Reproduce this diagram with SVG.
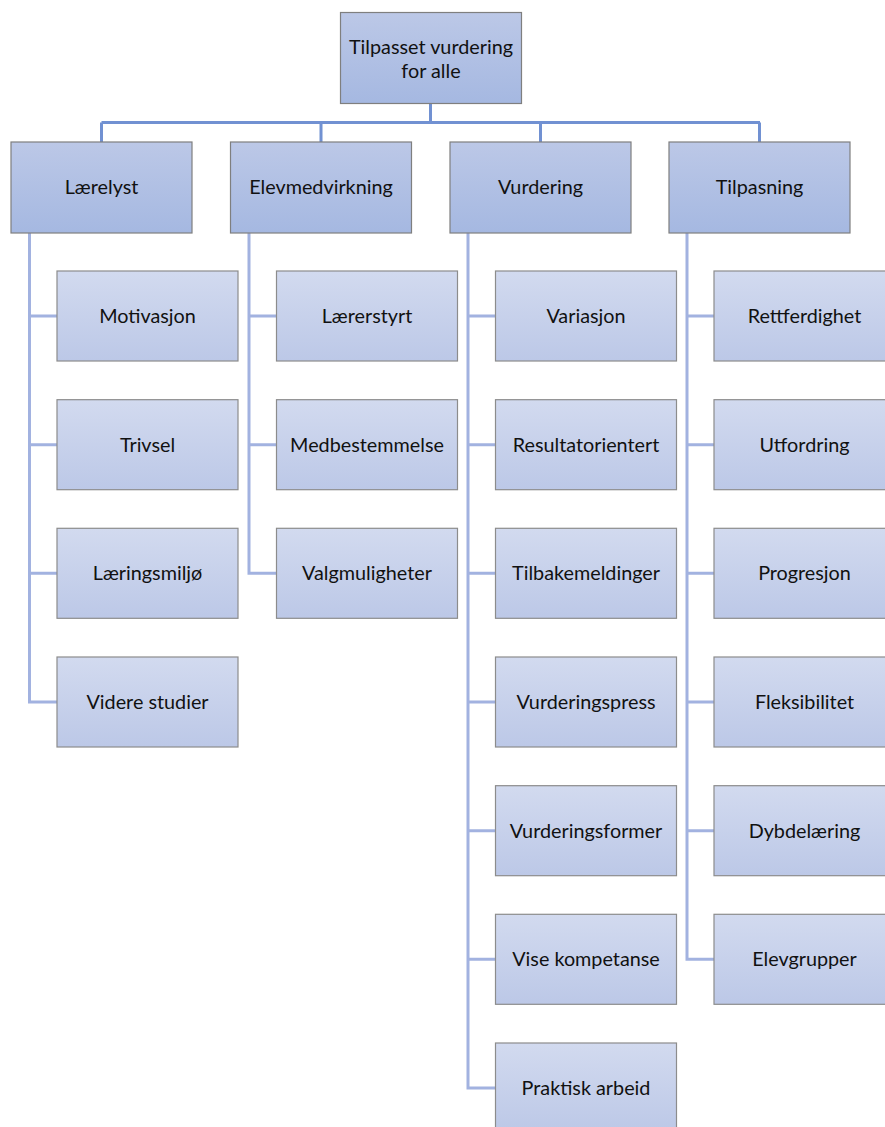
<svg xmlns="http://www.w3.org/2000/svg" width="885" height="1127" viewBox="0 0 885 1127">
<defs>
<linearGradient id="gTop" x1="0" y1="0" x2="0" y2="1">
<stop offset="0" stop-color="#bcc8e7"/><stop offset="1" stop-color="#a5b8e1"/>
</linearGradient>
<linearGradient id="gChild" x1="0" y1="0" x2="0" y2="1">
<stop offset="0" stop-color="#d2daef"/><stop offset="1" stop-color="#bcc8e7"/>
</linearGradient>
<style>
.top{fill:url(#gTop);stroke:#7f7f7f;stroke-width:1.2}
.child{fill:url(#gChild);stroke:#8c8c8c;stroke-width:1.2}
text{font-family:Lato,"Liberation Sans",sans-serif;font-size:19.8px;fill:#111;text-anchor:middle}
.c1{fill:none;stroke:#7191d2;stroke-width:3}
.c2{fill:none;stroke:#a2b2e0;stroke-width:3}
</style>
</defs>
<rect width="885" height="1127" fill="#fff"/>
<g id="connectors">
<path class="c1" d="M430.5 103V122.5M101.5 122.5H760M101.5 122.5V142M321 122.5V142M540.5 122.5V142M759.5 122.5V142"/>
<path class="c2" d="M29.5 233V702H57M29.5 316H57M29.5 444.7H57M29.5 573.3H57"/>
<path class="c2" d="M249 233V573.3H276.5M249 316H276.5M249 444.7H276.5"/>
<path class="c2" d="M468 233V1088H495.5M468 316H495.5M468 444.7H495.5M468 573.3H495.5M468 702H495.5M468 830.7H495.5M468 959.3H495.5"/>
<path class="c2" d="M687 233V959.3H714M687 316H714M687 444.7H714M687 573.3H714M687 702H714M687 830.7H714"/>
</g>
<g id="n-root"><rect class="top" x="340.5" y="12.5" width="181" height="91"/><text x="431" y="47" dy="0.35em">Tilpasset vurdering</text><text x="431" y="71" dy="0.35em">for alle</text></g>
<g id="n-laerelyst"><rect class="top" x="11" y="142" width="181" height="91"/><text x="101.5" y="187.5" dy="0.35em">Lærelyst</text></g>
<g id="n-elevmedvirkning"><rect class="top" x="230.5" y="142" width="181" height="91"/><text x="321" y="187.5" dy="0.35em">Elevmedvirkning</text></g>
<g id="n-vurdering"><rect class="top" x="450" y="142" width="181" height="91"/><text x="540.5" y="187.5" dy="0.35em">Vurdering</text></g>
<g id="n-tilpasning"><rect class="top" x="669" y="142" width="181" height="91"/><text x="759.5" y="187.5" dy="0.35em">Tilpasning</text></g>

<g id="n-motivasjon"><rect class="child" x="57" y="271" width="181" height="90"/><text x="147.5" y="316" dy="0.35em">Motivasjon</text></g>
<g id="n-trivsel"><rect class="child" x="57" y="399.7" width="181" height="90"/><text x="147.5" y="444.7" dy="0.35em">Trivsel</text></g>
<g id="n-laeringsmiljo"><rect class="child" x="57" y="528.3" width="181" height="90"/><text x="147.5" y="573.3" dy="0.35em">Læringsmiljø</text></g>
<g id="n-videre"><rect class="child" x="57" y="657" width="181" height="90"/><text x="147.5" y="702" dy="0.35em">Videre studier</text></g>

<g id="n-larerstyrt"><rect class="child" x="276.5" y="271" width="181" height="90"/><text x="367" y="316" dy="0.35em">Lærerstyrt</text></g>
<g id="n-medbestemmelse"><rect class="child" x="276.5" y="399.7" width="181" height="90"/><text x="367" y="444.7" dy="0.35em">Medbestemmelse</text></g>
<g id="n-valgmuligheter"><rect class="child" x="276.5" y="528.3" width="181" height="90"/><text x="367" y="573.3" dy="0.35em">Valgmuligheter</text></g>

<g id="n-variasjon"><rect class="child" x="495.5" y="271" width="181" height="90"/><text x="586" y="316" dy="0.35em">Variasjon</text></g>
<g id="n-resultat"><rect class="child" x="495.5" y="399.7" width="181" height="90"/><text x="586" y="444.7" dy="0.35em">Resultatorientert</text></g>
<g id="n-tilbake"><rect class="child" x="495.5" y="528.3" width="181" height="90"/><text x="586" y="573.3" dy="0.35em">Tilbakemeldinger</text></g>
<g id="n-vpress"><rect class="child" x="495.5" y="657" width="181" height="90"/><text x="586" y="702" dy="0.35em">Vurderingspress</text></g>
<g id="n-vformer"><rect class="child" x="495.5" y="785.7" width="181" height="90"/><text x="586" y="830.7" dy="0.35em">Vurderingsformer</text></g>
<g id="n-vise"><rect class="child" x="495.5" y="914.3" width="181" height="90"/><text x="586" y="959.3" dy="0.35em">Vise kompetanse</text></g>
<g id="n-praktisk"><rect class="child" x="495.5" y="1043" width="181" height="90"/><text x="586" y="1088" dy="0.35em">Praktisk arbeid</text></g>

<g id="n-rett"><rect class="child" x="714" y="271" width="181" height="90"/><text x="804.5" y="316" dy="0.35em">Rettferdighet</text></g>
<g id="n-utfordring"><rect class="child" x="714" y="399.7" width="181" height="90"/><text x="804.5" y="444.7" dy="0.35em">Utfordring</text></g>
<g id="n-progresjon"><rect class="child" x="714" y="528.3" width="181" height="90"/><text x="804.5" y="573.3" dy="0.35em">Progresjon</text></g>
<g id="n-fleks"><rect class="child" x="714" y="657" width="181" height="90"/><text x="804.5" y="702" dy="0.35em">Fleksibilitet</text></g>
<g id="n-dybde"><rect class="child" x="714" y="785.7" width="181" height="90"/><text x="804.5" y="830.7" dy="0.35em">Dybdelæring</text></g>
<g id="n-elevgr"><rect class="child" x="714" y="914.3" width="181" height="90"/><text x="804.5" y="959.3" dy="0.35em">Elevgrupper</text></g>
</svg>
